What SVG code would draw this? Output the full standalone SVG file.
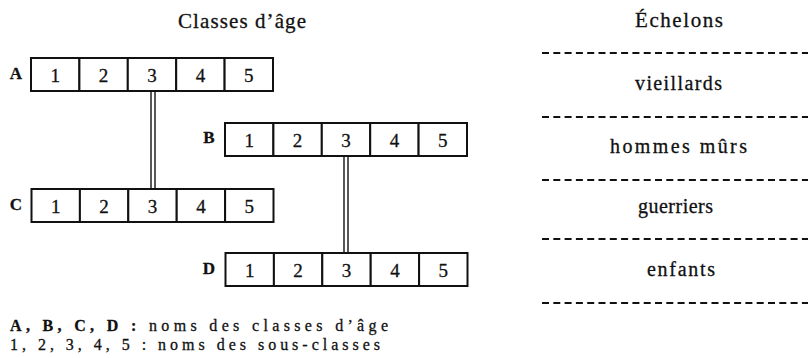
<svg xmlns="http://www.w3.org/2000/svg" width="810" height="358" viewBox="0 0 810 358">
<style>
text{font-family:"Liberation Serif","Times New Roman",serif;fill:#111;stroke:#111;stroke-width:0.3}
.t{font-size:21px}
.n{font-size:19px;text-anchor:middle}
.e{font-size:20px}
.l{font-size:17px;font-weight:bold;text-anchor:middle}
.cell{fill:#fff;stroke:#111;stroke-width:2}
.dash{stroke:#111;stroke-width:2;stroke-dasharray:7 4.3;fill:none}
.conn{stroke:#111;stroke-width:1.4;fill:none}
.g{font-size:16px}
</style>
<defs>
<g id="row">
<rect class="cell" x="0" y="0" width="48.4" height="33"/>
<rect class="cell" x="48.4" y="0" width="48.4" height="33"/>
<rect class="cell" x="96.8" y="0" width="48.4" height="33"/>
<rect class="cell" x="145.2" y="0" width="48.4" height="33"/>
<rect class="cell" x="193.6" y="0" width="48.4" height="33"/>
<text class="n" x="24.2" y="23.5">1</text>
<text class="n" x="72.6" y="23.5">2</text>
<text class="n" x="121" y="23.5">3</text>
<text class="n" x="169.4" y="23.5">4</text>
<text class="n" x="217.8" y="23.5">5</text>
</g>
</defs>
<text class="t" x="178" y="28" textLength="128">Classes d’âge</text>
<text class="t" x="635" y="27" textLength="88">Échelons</text>
<g id="connectors">
<line class="conn" x1="151" y1="91" x2="151" y2="189"/>
<line class="conn" x1="155" y1="91" x2="155" y2="189"/>
<line class="conn" x1="344" y1="156" x2="344" y2="253"/>
<line class="conn" x1="348" y1="156" x2="348" y2="253"/>
</g>
<g id="A"><text class="l" x="16" y="79">A</text><use href="#row" x="31" y="58"/></g>
<g id="B"><text class="l" x="209" y="143">B</text><use href="#row" x="225" y="123"/></g>
<g id="C"><text class="l" x="16" y="210">C</text><use href="#row" x="31.5" y="189"/></g>
<g id="D"><text class="l" x="209" y="274">D</text><use href="#row" x="225.5" y="253"/></g>
<g id="echelons">
<line class="dash" x1="542" y1="53" x2="808" y2="53"/>
<line class="dash" x1="542" y1="117" x2="808" y2="117"/>
<line class="dash" x1="542" y1="180" x2="808" y2="180"/>
<line class="dash" x1="542" y1="239" x2="808" y2="239"/>
<line class="dash" x1="542" y1="303" x2="808" y2="303"/>
<text class="e" x="635" y="90" textLength="87">vieillards</text>
<text class="e" x="610" y="153" textLength="137">hommes mûrs</text>
<text class="e" x="638" y="213" textLength="75">guerriers</text>
<text class="e" x="647" y="276" textLength="68">enfants</text>
</g>
<g id="legend">
<text class="g" x="10" y="331" textLength="378"><tspan font-weight="bold">A, B, C, D :</tspan> noms des classes d’âge</text>
<text class="g" x="10" y="350" textLength="370">1, 2, 3, 4, 5 : noms des sous-classes</text>
</g>
</svg>
